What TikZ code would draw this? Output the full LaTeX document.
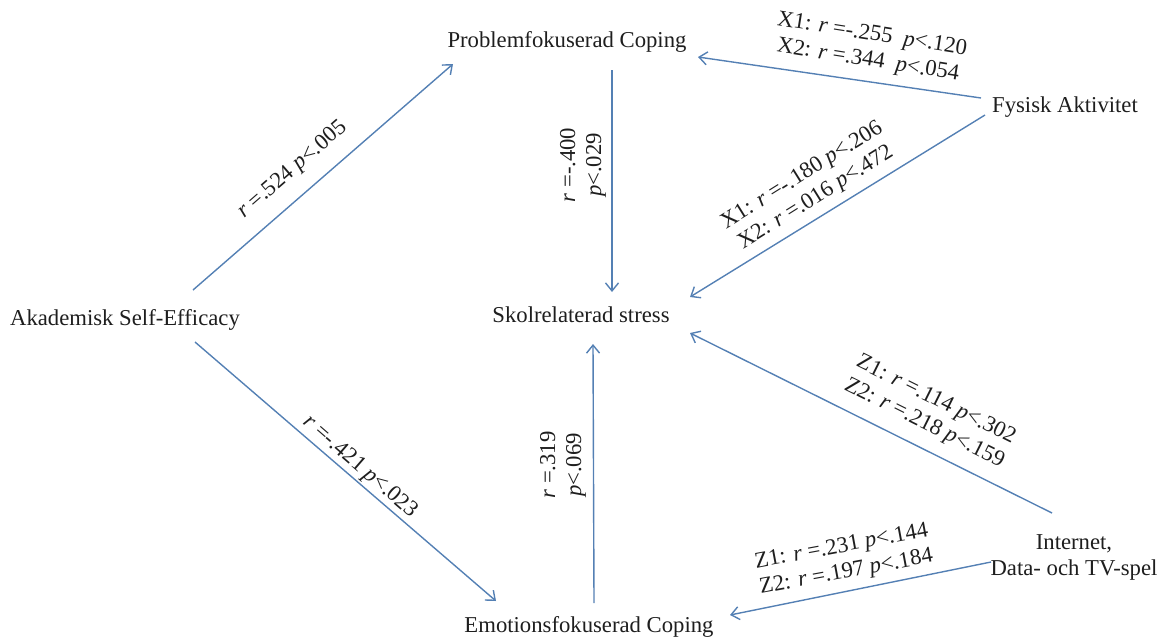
\documentclass[tikz,border=0pt]{standalone}
\usepackage{fontspec}
\setmainfont{Liberation Serif}
\usetikzlibrary{arrows.meta,calc}
\definecolor{arrowblue}{RGB}{84,128,180}
\definecolor{txt}{RGB}{30,30,30}
\begin{document}
\begin{tikzpicture}[x=1pt,y=-1pt,
  every node/.style={font=\fontsize{22.7}{26}\selectfont, text=txt, inner sep=0pt},
  var/.style={anchor=base},
  elbl/.style={align=center, anchor=center},
  conn/.style={draw=arrowblue, line width=1.4pt, -{Straight Barb[length=8pt,width=13pt,line width=1.4pt]}}]
\useasboundingbox (0,0) rectangle (1161,638);
% variables
\node[var] (akad) at (125,325) {Akademisk Self-Efficacy};
\node[var] (prob) at (567,47) {Problemfokuserad Coping};
\node[var] (stress) at (581,322) {Skolrelaterad stress};
\node[var] (emo) at (589,632) {Emotionsfokuserad Coping};
\node[var] (fys) at (1065,112) {Fysisk Aktivitet};
\node[align=center] (inet) at (1074,557) {Internet,\\Data- och TV-spel};
% connectors
\draw[conn] ([shift={(68,-35)}]akad.base) -- ([shift={(-114,17)}]prob.base);
\draw[conn] ([shift={(70,17)}]akad.base) -- ([shift={(-93,-31)}]emo.base);
\draw[conn] ([shift={(45,23)}]prob.base) -- ([shift={(31,-30)}]stress.base);
\draw[conn] ([shift={(5,-29)}]emo.base) -- ([shift={(12,22)}]stress.base);
\draw[conn] ([shift={(-84,-14)}]fys.base) -- ([shift={(131,10)}]prob.base);
\draw[conn] ([shift={(-80,3)}]fys.base) -- ([shift={(109,-25)}]stress.base);
\draw[conn] ([shift={(-22,-44)}]inet.center) -- ([shift={(109,11)}]stress.base);
\draw[conn] ([shift={(-83,5)}]inet.center) -- ([shift={(141,-17)}]emo.base);
% labels
\node[elbl, rotate=41] (l1) at (293,170) {\textit{r} =.524 \textit{p}<.005};
\node[elbl, rotate=-41] (l2) at (360,467) {\textit{r} =-.421 \textit{p}<.023};
\node[elbl, rotate=90] (l3) at (583,165) {\textit{r} =-.400\\\textit{p}<.029};
\node[elbl, rotate=90] (l4) at (563,465) {\textit{r} =.319\\\textit{p}<.069};
\node[elbl, rotate=-9] (l5) at (870,48) {X1: \textit{r} =-.255\ \ \textit{p}<.120\\X2: \textit{r} =.344\ \ \textit{p}<.054};
\node[elbl, rotate=32] (l6) at (809,187) {X1: \textit{r} =-.180 \textit{p}<.206\\X2: \textit{r} =.016 \textit{p}<.472};
\node[elbl, rotate=-26.5] (l7) at (930,412) {Z1: \textit{r} =.114 \textit{p}<.302\\Z2: \textit{r} =.218 \textit{p}<.159};
\node[elbl, rotate=10.5] (l8) at (844,560) {Z1: \textit{r} =.231 \textit{p}<.144\\Z2: \textit{r} =.197 \textit{p}<.184};
\end{tikzpicture}
\end{document}
